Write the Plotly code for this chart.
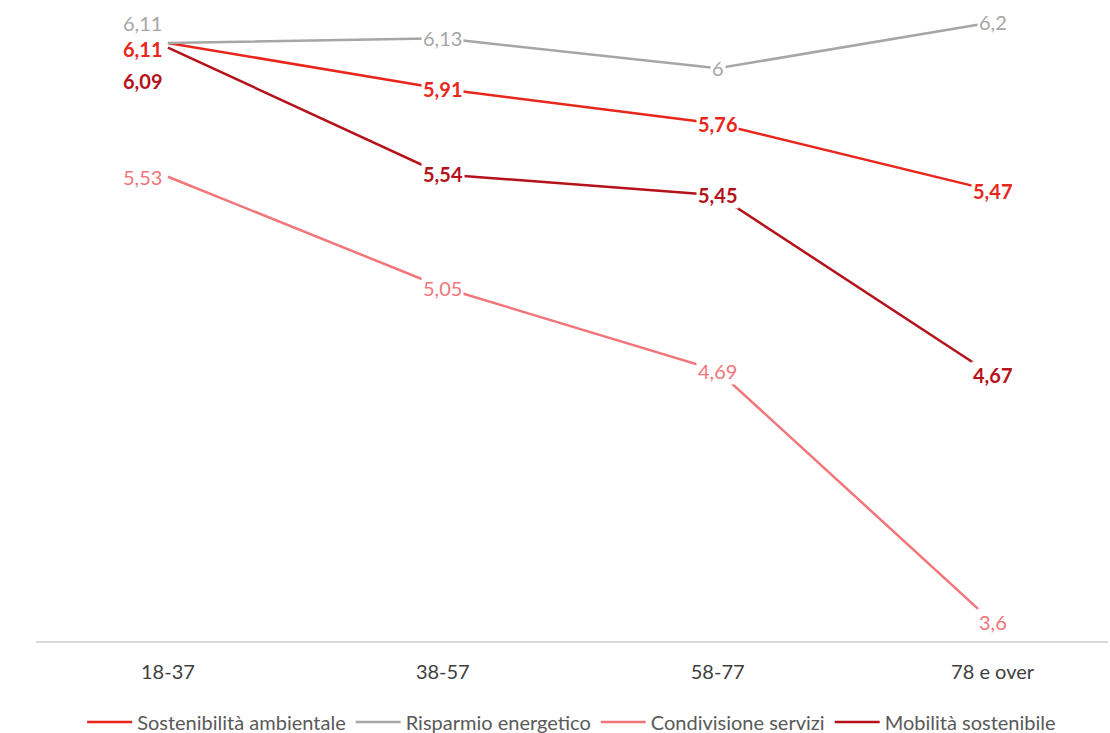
import plotly.graph_objects as go

categories = ["18-37", "38-57", "58-77", "78 e over"]
series_names = ["Sostenibilità ambientale", "Risparmio energetico", "Condivisione servizi", "Mobilità sostenibile"]
sostenibilita = [6.11, 5.91, 5.76, 5.47]
risparmio = [6.11, 6.13, 6.00, 6.20]
condivisione = [5.53, 5.05, 4.69, 3.60]
mobilita = [6.09, 5.54, 5.45, 4.67]

colors = ["#E8261C", "#A6A6A6", "#F2757A", "#B5121B"]
bold = [True, False, False, True]
first_yshift = [-6, 20, 0, -33]
values = [sostenibilita, risparmio, condivisione, mobilita]

FONT = "Lato, Open Sans, sans-serif"

def fmt(v):
    return f"{v:g}".replace(".", ",")

fig = go.Figure()
for name, vals, col in zip(series_names, values, colors):
    fig.add_trace(go.Scatter(x=categories, y=vals, mode="lines", name=name,
                             line=dict(color=col, width=2.5)))

annotations = []
for name, vals, col, b, ys in zip(series_names, values, colors, bold, first_yshift):
    for i, (c, v) in enumerate(zip(categories, vals)):
        txt = fmt(v)
        if b:
            txt = f"<b>{txt}</b>"
        annotations.append(dict(
            x=c, y=v, text=txt, showarrow=False,
            font=dict(family=FONT, size=20, color=col),
            bgcolor="white", borderpad=1,
            xshift=-25 if i == 0 else 0,
            yshift=ys if i == 0 else 0,
        ))

fig.update_layout(
    width=1110, height=733,
    margin=dict(l=36, r=2, t=6, b=92, autoexpand=False),
    paper_bgcolor="white", plot_bgcolor="white",
    showlegend=True,
    legend=dict(orientation="h", x=0.515, xanchor="center", xref="container",
                y=0.015, yref="container", yanchor="middle",
                font=dict(family=FONT, size=20, color="#595959"),
                itemwidth=45, traceorder="normal"),
    annotations=annotations,
    xaxis=dict(type="category", range=[-0.48, 3.42], showgrid=False, zeroline=False,
               showline=True, linecolor="#D9D9D9", linewidth=1.5, ticks="", automargin=False,
               ticklabelstandoff=12,
               tickfont=dict(family=FONT, size=20, color="#404040")),
    yaxis=dict(range=[3.518, 6.27], visible=False, showgrid=False, zeroline=False, automargin=False),
)

fig.write_html("out.html", config={"displayModeBar": False},
               post_script="document.body.style.margin='0px';")
